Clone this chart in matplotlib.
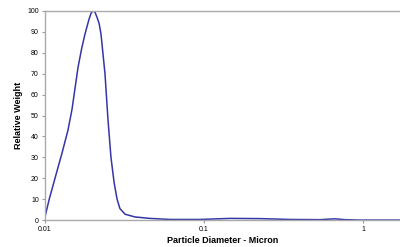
import matplotlib
matplotlib.use("Agg")
import matplotlib.pyplot as plt

# particle diameter (micron) and relative weight
diameter = [0.0100, 0.0106, 0.01156, 0.01279, 0.01395, 0.01479, 0.01613, 0.01700,
            0.01785, 0.01891, 0.0195, 0.0200, 0.0206, 0.02124, 0.0219, 0.0225,
            0.02384, 0.0249, 0.0260, 0.0272, 0.0284, 0.0296, 0.0319, 0.0368,
            0.0457, 0.0611, 0.0944, 0.146, 0.225, 0.347, 0.537, 0.667,
            0.771, 0.957, 1.7]
weight = [1.5, 9.6, 20, 32, 43, 53, 73, 82,
          89, 96, 99, 100, 99.5, 97, 94, 89,
          70, 48, 30, 18, 10, 5.5, 2.8, 1.5,
          0.8, 0.3, 0.3, 0.8, 0.7, 0.3, 0.2, 0.6,
          0.2, 0.0, 0.0]

xticks = [0.01, 0.1, 1]
xticklabels = ["0.01", "0.1", "1"]
yticks = list(range(0, 101, 10))

plt.rcParams['font.family'] = ['Liberation Sans', 'DejaVu Sans']

fig = plt.figure(figsize=(4.0, 2.47), dpi=100)
ax = fig.add_axes([0.1125, 0.109, 0.8875, 0.8465])

ax.plot(diameter, weight, color="#3535a8", lw=1.1)
ax.set_xscale("log")
ax.set_xlim(0.01, 1.71)
ax.set_ylim(0, 100)

ax.set_xticks(xticks)
ax.set_xticklabels(xticklabels)
ax.xaxis.set_minor_locator(matplotlib.ticker.NullLocator())
ax.set_yticks(yticks)

ax.tick_params(axis="both", labelsize=5, length=2.5, width=0.8, color="#999999", pad=2)
for s in ["top", "left", "bottom"]:
    ax.spines[s].set_color("#aaaaaa")
    ax.spines[s].set_linewidth(1.0)
ax.spines["right"].set_visible(False)

ax.set_xlabel("Particle Diameter - Micron", fontsize=6.5, fontweight="bold", labelpad=2)
ax.set_ylabel("Relative Weight", fontsize=6.5, fontweight="bold", labelpad=3)

fig.savefig("out.png", dpi=100)
